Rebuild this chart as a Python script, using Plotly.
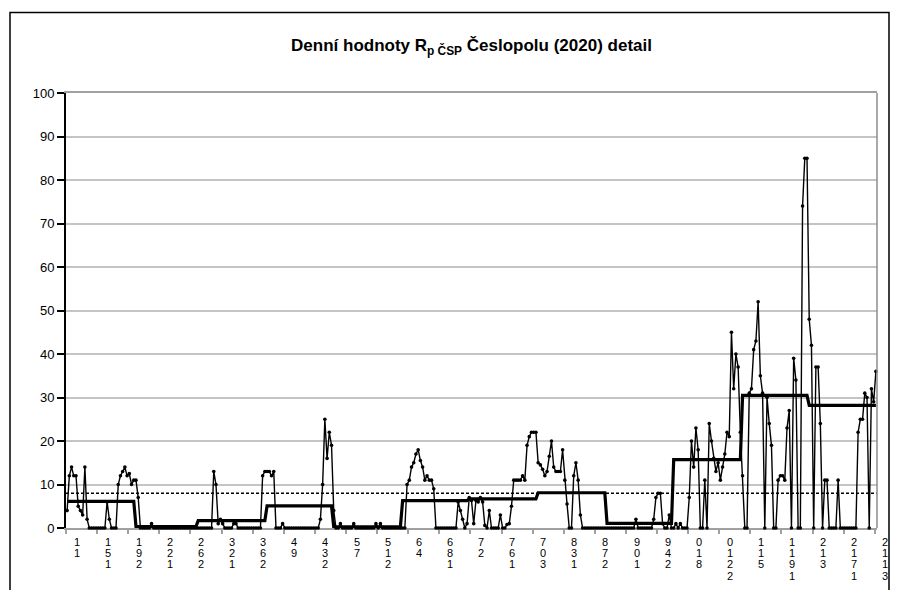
import plotly.graph_objects as go

# ---------------- data ----------------
month_days = [31, 28, 31, 30, 31, 30, 31, 31, 30, 31, 30, 31]

jan = [4, 12, 14, 12, 12, 5, 4, 3, 14, 2, 0, 0, 0, 0, 0, 0, 0, 0, 6, 2, 0, 0, 0,
       10, 12, 13, 14, 12, 12.5, 10, 11]
feb = [11, 7, 0, 0, 0, 0, 0, 1, 0, 0, 0, 0, 0, 0, 0, 0, 0, 0, 0, 0, 0, 0, 0, 0,
       0, 0, 0, 0]
mar = [0, 0, 0, 0, 0, 0, 0, 13, 10, 1, 2, 1, 0, 0, 0, 0, 1, 1, 0, 0, 0, 0, 0, 0,
       0, 0, 0, 0, 0, 12, 13]
apr = [13, 13, 12, 13, 0, 0, 0, 1, 0, 0, 0, 0, 0, 0, 0, 0, 0, 0, 0, 0, 0, 0, 0,
       0, 2, 10, 25, 16, 22, 19]
may = [4, 0, 0, 1, 0, 0, 0, 0, 0, 1, 0, 0, 0, 0, 0, 0, 0, 0, 0, 1, 0, 1, 0, 0,
       0, 0, 0, 0, 0, 0, 0]
jun = [0, 0, 10, 11, 14, 15, 17, 18, 15.5, 14, 11, 12, 11, 11, 9, 0, 0, 0, 0, 0,
       0, 0, 0, 0, 0, 6, 4, 2, 0, 1]
jul = [7, 6.3, 1, 6.3, 6, 7, 6, 0.6, 0, 4, 0, 0, 0, 0, 3, 0, 0, 0.8, 1, 5, 11, 11,
       11, 11, 12, 11, 19, 21, 22, 22, 22]
aug = [15, 14.5, 13.5, 12, 13, 16.5, 20, 14, 13, 13, 13, 18, 11, 5.5, 0, 0, 12, 15,
       11, 3, 0, 0, 0, 0, 0, 0, 0, 0, 0, 0, 0]
sep = [0, 0, 0, 0, 0, 0, 0, 0, 0, 0, 0, 0, 0, 2, 0, 0, 0, 0, 0, 0, 0, 2, 7, 8, 8,
       1, 0, 0, 3, 0]
oct_ = [0, 1, 0, 1, 0, 0, 0, 7, 20, 14, 23, 18, 0, 0, 11, 0, 24, 20, 16, 13, 15,
        11, 14, 17, 22, 21, 45, 32, 40, 37, 22]
nov = [12, 0, 0, 31, 32, 41, 43, 52, 35, 31, 0, 30, 24, 19, 0, 0, 11, 12, 12, 11,
       23, 27, 0, 39, 34, 0, 0, 74, 85, 85]
dec = [48, 42, 0, 37, 37, 24, 0, 11, 11, 0, 0, 0, 0, 11, 0, 0, 0, 0, 0, 0, 0, 0,
       22, 25, 25, 31, 30, 0, 32, 29, 36]

monthly_level = [6.1, 0.35, 1.7, 5.1, 0.25, 6.3, 6.7, 8.1, 1.05, 15.7, 30.5, 28.2]
threshold = 8

x_tick_labels = ["11", "151", "192", "221", "262", "321", "362", "49", "432",
                 "57", "512", "64", "681", "72", "761", "703", "831", "872",
                 "901", "942", "018", "0122", "115", "1191", "213", "2171", "2113"]
label_step = 14
y_ticks = [0, 10, 20, 30, 40, 50, 60, 70, 80, 90, 100]

title_text = "<b>Denní hodnoty R<sub>p ČSP</sub> Česlopolu (2020) detail</b>"

# ---------------- build ----------------
months = [jan, feb, mar, apr, may, jun, jul, aug, sep, oct_, nov, dec]
daily = [v for m in months for v in m]
days = list(range(1, len(daily) + 1))

level_y = []
for n, lv in zip(month_days, monthly_level):
    level_y += [lv] * n

FONT = "Liberation Sans, Arial, sans-serif"

# the page body adds an 8 px offset; positions below are figure pixels
OFF = 8
W, H = 898 - OFF, 590 - OFF
L, R, T, B = 66 - OFF, 877 - OFF, 93 - OFF, 528 - OFF

fig = go.Figure()

fig.add_trace(go.Scatter(x=[days[0] - 0.5, days[-1] + 0.5], y=[threshold, threshold],
                         mode="lines", line=dict(color="black", width=1.5, dash="3px,2px"),
                         hoverinfo="skip"))
fig.add_trace(go.Scatter(x=days, y=level_y, mode="lines",
                         line=dict(color="black", width=3.2), hoverinfo="skip"))
fig.add_trace(go.Scatter(x=days, y=daily, mode="lines+markers",
                         line=dict(color="black", width=1.4),
                         marker=dict(color="black", size=3.6),
                         cliponaxis=False))

tickvals = [1 - 0.5 + label_step * k for k in range(len(x_tick_labels))]

annotations = []
for k, lab in enumerate(x_tick_labels):
    for i, ch in enumerate(lab):
        annotations.append(dict(
            x=1 + label_step * k, xref="x", y=0, yref="paper",
            text=ch, showarrow=False, xanchor="center", yanchor="top",
            height=11, width=8, valign="middle", borderpad=0,
            xshift=9.5, yshift=-6.5 - 11.4 * i,
            font=dict(family=FONT, size=11, color="black")))

def px_x(p):
    return (p - L) / (R - L)

def px_y(p):
    return (B - p) / (B - T)

shapes = [
    dict(type="line", xref="paper", yref="paper", x0=1, x1=1, y0=0, y1=1,
         line=dict(color="#8c8c8c", width=1.5)),
    dict(type="rect", xref="paper", yref="paper",
         x0=px_x(10 - OFF), x1=px_x(889 - OFF), y0=px_y(620), y1=px_y(12.5 - OFF),
         line=dict(color="black", width=1.5), layer="above"),
]

fig.update_layout(
    width=W, height=H,
    margin=dict(l=L, r=W - R, t=T, b=H - B),
    paper_bgcolor="white", plot_bgcolor="white",
    showlegend=False,
    title=dict(text=title_text, x=0.5, xref="paper", xanchor="center",
               y=1 - (45 - OFF) / H, yref="container", yanchor="middle",
               font=dict(family=FONT, size=17, color="black")),
    xaxis=dict(range=[0.5, len(daily) + 0.5], tickvals=tickvals, showticklabels=False,
               ticks="outside", ticklen=4, tickcolor="#a0a0a0", tickwidth=1.5,
               showgrid=False, zeroline=False, showline=True, linecolor="#a0a0a0",
               linewidth=2, mirror=True, layer="below traces"),
    yaxis=dict(range=[0, 100], tickvals=y_ticks, showgrid=True, gridcolor="#c4c4c4",
               gridwidth=2, zeroline=False, showline=True, linecolor="black",
               linewidth=2, ticks="outside", ticklen=7, tickcolor="black", tickwidth=2,
               tickfont=dict(family=FONT, size=13, color="black"),
               layer="below traces"),
    annotations=annotations,
    shapes=shapes,
)

fig.write_html("out.html")
